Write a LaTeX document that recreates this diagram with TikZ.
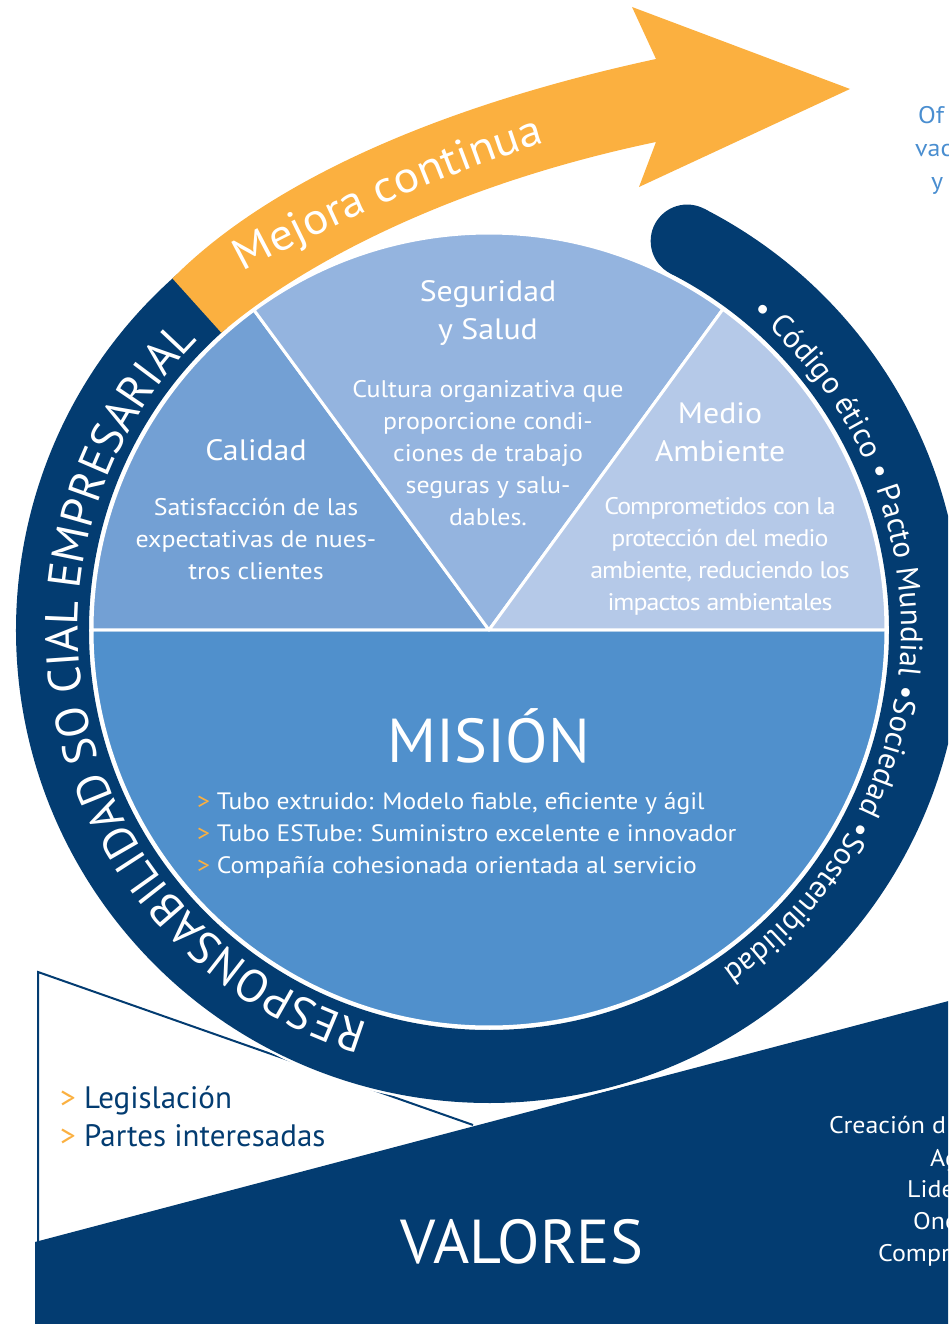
\documentclass[tikz,border=0pt]{standalone}
\usepackage{fontspec}
\setmainfont{PT Sans}
\newfontfamily\widefont{PT Sans}[FakeStretch=1.08]
\usetikzlibrary{calc}
\usetikzlibrary{decorations.text}

\definecolor{ringblue}{HTML}{033C71}
\definecolor{arrowgold}{HTML}{FBB040}
\definecolor{misionblue}{HTML}{5090CC}
\definecolor{calidadblue}{HTML}{73A0D4}
\definecolor{seguridadblue}{HTML}{94B4DF}
\definecolor{medioblue}{HTML}{B5C9E8}
\definecolor{tagblue}{HTML}{4A8ED0}

\newcommand{\chev}{\textcolor{arrowgold}{>}}

\begin{document}
\begin{tikzpicture}
	[x=1pt,y=1pt,
	 lbl/.style={text=white, align=center, inner sep=0pt},
	 title/.style={lbl, font=\widefont\fontsize{29.5}{38}\selectfont},
	 blurb/.style={lbl, font=\widefont\fontsize{24}{32}\selectfont},
	 sector/.style={draw=white, line width=3pt, line join=round},
	 cutoff/.style={inner sep=0pt, anchor=base west, font=\widefont\fontsize{24}{24}\selectfont}];

	\useasboundingbox (0,0) rectangle (948,1324);
	\clip (0,0) rectangle (948,1324);

	%Centre
	\coordinate (c) at (489,694);

	%Valores band
	\fill[ringblue] (35,82) -- (960,326) -- (960,-5) -- (35,-5) -- cycle;
	\coordinate (tl) at (38,352);
	\coordinate (bl) at (38,82);
	\coordinate (tip) at (473,199);
	\draw[ringblue, line width=2pt] (tip) -- (tl) -- (bl);

	%Ring
	\draw[white, line width=78pt] (c) ++(131:436.5) arc[start angle=131, end angle=423, radius=436.5];
	\fill[white] ($(c)+(423:436.5)$) circle (39);
	\draw[ringblue, line width=73pt] (c) ++(131:436.5) arc[start angle=131, end angle=423, radius=436.5];
	\fill[ringblue] ($(c)+(423:436.5)$) circle (36.5);

	%Arrow
	\fill[arrowgold] ($(c)+(132:473)$) .. controls (260,1134) and (420,1214) .. (656,1265)
		-- (632,1317) -- (850,1235) -- (639,1137) -- (656,1182)
		.. controls (450,1139) and (300,1059) .. ($(c)+(132:400)$) -- cycle;

	%Pie
	\filldraw[sector, fill=misionblue] (c) -- ++(180:397) arc[start angle=180, end angle=360, radius=397] -- cycle;
	\filldraw[sector, fill=calidadblue] (c) -- ++(126.3:397) arc[start angle=126.3, end angle=180, radius=397] -- cycle;
	\filldraw[sector, fill=seguridadblue] (c) -- ++(53.9:397) arc[start angle=53.9, end angle=126.3, radius=397] -- cycle;
	\filldraw[sector, fill=medioblue] (c) -- ++(0:397) arc[start angle=0, end angle=53.9, radius=397] -- cycle;

	%Ring texts
	\path[decorate, decoration={text along path, text color=white, text align=center,
		text={|\fontsize{46}{46}\selectfont|RESPONSABILIDAD SO CIAL EMPRESARIAL}}]
		(c) ++(264:411) arc[start angle=264, end angle=124, radius=411];
	\path[decorate, decoration={text along path, text color=white, text align=center,
		text={|\fontsize{31}{31}\selectfont|• Código ético • Pacto Mundial •Sociedad •Sostenibilidad}}]
		(c) ++(60:412) arc[start angle=60, end angle=-65, radius=412];
	\path[decorate, decoration={text along path, text color=white, text align=fit to path,
		text={|\widefont\fontsize{44}{44}\selectfont|Mejora continua}}]
		(243,1052) .. controls (330,1099) and (449,1152) .. (545,1181);

	%Pie labels
	\node[title] (seg) at (488,1011) {Seguridad\\y Salud};
	\node[blurb] (segtxt) at (488,871) {Cultura organizativa que\\proporcione condi-\\ciones de trabajo\\seguras y salu-\\dables.};
	\node[title] (cal) at (256,874) {Calidad};
	\node[blurb] (caltxt) at (256,785) {Satisfacción de las\\expectativas de nues-\\tros clientes};
	\node[title] (med) at (720,892) {Medio\\Ambiente};
	\node[blurb, font=\widefont\fontsize{24}{32}\selectfont\addfontfeature{LetterSpace=-4}] (medtxt) at (720,768)
		{Comprometidos con la\\protección del medio\\ambiente, reduciendo los\\impactos ambientales};

	\node[lbl, font=\fontsize{62}{62}\selectfont] (mision) at (489,588) {MISIÓN};
	\node[lbl, align=left, anchor=west, font=\widefont\fontsize{23.7}{32}\selectfont] (goals) at (197,489)
		{\chev\ Tubo extruido: Modelo fiable, eficiente y ágil\\\chev\ Tubo ESTube: Suministro excelente e innovador\\\chev\ Compañía cohesionada orientada al servicio};

	%Bottom
	\node[inner sep=0pt, anchor=west, align=left, text=ringblue, font=\fontsize{31}{38}\selectfont] (inputs) at (60,207)
		{\chev\ Legislación\\\chev\ Partes interesadas};
	\node[lbl, font=\fontsize{62}{62}\selectfont] (valores) at (522,82) {VALORES};

	%Cut-off texts
	\node[cutoff, text=tagblue] (of) at (918,1200) {Of};
	\node[cutoff, text=tagblue] (vac) at (915,1167) {vac};
	\node[cutoff, text=tagblue] (yy) at (931,1134) {y};
	\node[cutoff, text=white] (crea) at (829,190) {Creación d};
	\node[cutoff, text=white] (ag) at (930,157) {Ag};
	\node[cutoff, text=white] (lide) at (907,126) {Lide};
	\node[cutoff, text=white] (one) at (913,94) {One};
	\node[cutoff, text=white] (comp) at (878,62) {Compr};
\end{tikzpicture}
\end{document}
